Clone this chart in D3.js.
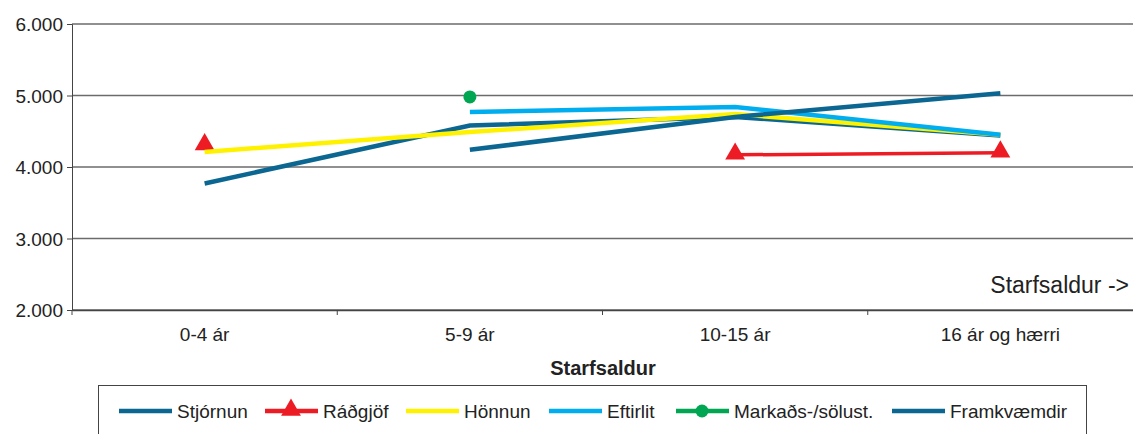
<!DOCTYPE html>
<html>
<head>
<meta charset="utf-8">
<script src="https://cdn.jsdelivr.net/npm/d3@7"></script>
<style>
  body { margin: 0; background: #fff; }
  svg { font-family: "Liberation Sans", Arial, sans-serif; }
</style>
</head>
<body>
<div id="chart"></div>
<script>
// Chart size
const width = 1133;
const height = 434;
const margin = {left: 72, right: 0, top: 24, bottom: 124};

// Data
const categories = ["0-4 ár", "5-9 ár", "10-15 ár", "16 ár og hærri"];
const yTicks = [2000, 3000, 4000, 5000, 6000];
const stjornun = [3770, 4580, 4700, 4440];
const radgjof = [4300, null, 4170, 4200];
const honnun = [4210, 4490, 4740, 4450];
const eftirlit = [null, 4770, 4840, 4450];
const markads = [null, 4980, null, null];
const framkvaemdir = [null, 4240, 4700, 5030];

const series = [
  {name: "Stjórnun", values: stjornun, color: "#0b6791", width: 4.5, marker: null},
  {name: "Ráðgjöf", values: radgjof, color: "#ed1c24", width: 3.5, marker: "triangle"},
  {name: "Hönnun", values: honnun, color: "#fff200", width: 4.5, marker: null},
  {name: "Eftirlit", values: eftirlit, color: "#00aeef", width: 4.5, marker: null},
  {name: "Markaðs-/sölust.", values: markads, color: "#00a651", width: 4.5, marker: "circle"},
  {name: "Framkvæmdir", values: framkvaemdir, color: "#0b6791", width: 4.5, marker: null}
];

const svg = d3.select("#chart")
  .append("svg")
  .attr("width", width)
  .attr("height", height);

// Scales
const x = d3.scaleBand()
  .domain(categories)
  .range([margin.left, width - margin.right])
  .padding(0);

const y = d3.scaleLinear()
  .domain([2000, 6000])
  .range([height - margin.bottom, margin.top]);

const cx = c => x(c) + x.bandwidth() / 2;
const fmt = d => d3.format(",")(d).replace(",", ".");

// Gridlines
svg.append("g")
  .selectAll("line")
  .data(yTicks)
  .join("line")
  .attr("x1", margin.left)
  .attr("x2", width)
  .attr("y1", d => y(d))
  .attr("y2", d => y(d))
  .attr("stroke", "#6b6b6b")
  .attr("stroke-width", 1.3);

// Y axis
const yAxis = svg.append("g")
  .attr("transform", `translate(${margin.left},0)`)
  .call(d3.axisLeft(y).tickValues(yTicks).tickFormat(fmt).tickSize(5).tickPadding(4));
yAxis.select(".domain").attr("stroke", "#444");
yAxis.selectAll(".tick line").attr("stroke", "#444");
yAxis.selectAll("text").attr("font-size", "19px").attr("fill", "#222").attr("dy", "0.36em");

// X axis
const xAxis = svg.append("g")
  .attr("transform", `translate(0,${y(2000)})`)
  .call(d3.axisBottom(x).tickSize(0).tickPadding(18));
xAxis.select(".domain").attr("stroke", "#444").attr("stroke-width", 1.3);
xAxis.selectAll("text").attr("font-size", "19px").attr("fill", "#222");

// Tick marks between categories
svg.append("g")
  .selectAll("line")
  .data(categories)
  .join("line")
  .attr("x1", d => x(d))
  .attr("x2", d => x(d))
  .attr("y1", y(2000))
  .attr("y2", y(2000) + 5)
  .attr("stroke", "#444");

// Lines
const line = d3.line()
  .defined(d => d.v !== null)
  .x(d => cx(d.c))
  .y(d => y(d.v));

series.forEach(s => {
  const pts = categories.map((c, i) => ({c: c, v: s.values[i]}));
  svg.append("path")
    .datum(pts)
    .attr("fill", "none")
    .attr("stroke", s.color)
    .attr("stroke-width", s.width)
    .attr("d", line);

  const present = pts.filter(d => d.v !== null);
  if (s.marker === "triangle") {
    svg.selectAll(null)
      .data(present)
      .join("path")
      .attr("transform", d => `translate(${cx(d.c)},${y(d.v) - 1})`)
      .attr("d", d3.symbol(d3.symbolTriangle, 170))
      .attr("fill", s.color);
  } else if (s.marker === "circle") {
    svg.selectAll(null)
      .data(present)
      .join("circle")
      .attr("cx", d => cx(d.c))
      .attr("cy", d => y(d.v))
      .attr("r", 6.5)
      .attr("fill", s.color);
  }
});

// Inner note
svg.append("text")
  .attr("x", 1129)
  .attr("y", 293)
  .attr("text-anchor", "end")
  .attr("font-size", "23px")
  .attr("fill", "#222")
  .text("Starfsaldur ->");

// Axis title
svg.append("text")
  .attr("x", 603)
  .attr("y", 375)
  .attr("text-anchor", "middle")
  .attr("font-size", "20px")
  .attr("font-weight", "bold")
  .attr("fill", "#222")
  .text("Starfsaldur");

// Legend
svg.append("rect")
  .attr("x", 98.5)
  .attr("y", 385.5)
  .attr("width", 988)
  .attr("height", 60)
  .attr("fill", "none")
  .attr("stroke", "#444");

const legendX = [119, 265, 406, 549, 676, 892];
const legend = svg.append("g")
  .selectAll("g")
  .data(series)
  .join("g")
  .attr("transform", (d, i) => `translate(${legendX[i]},411)`);

legend.append("line")
  .attr("x1", 0)
  .attr("x2", 53)
  .attr("stroke", d => d.color)
  .attr("stroke-width", 4.5);

legend.filter(d => d.marker === "triangle")
  .append("path")
  .attr("transform", "translate(26,-1)")
  .attr("d", d3.symbol(d3.symbolTriangle, 170))
  .attr("fill", d => d.color);

legend.filter(d => d.marker === "circle")
  .append("circle")
  .attr("cx", 26)
  .attr("r", 6.5)
  .attr("fill", d => d.color);

legend.append("text")
  .attr("x", 58)
  .attr("y", 7)
  .attr("font-size", "19px")
  .attr("fill", "#222")
  .text(d => d.name);
</script>
</body>
</html>
